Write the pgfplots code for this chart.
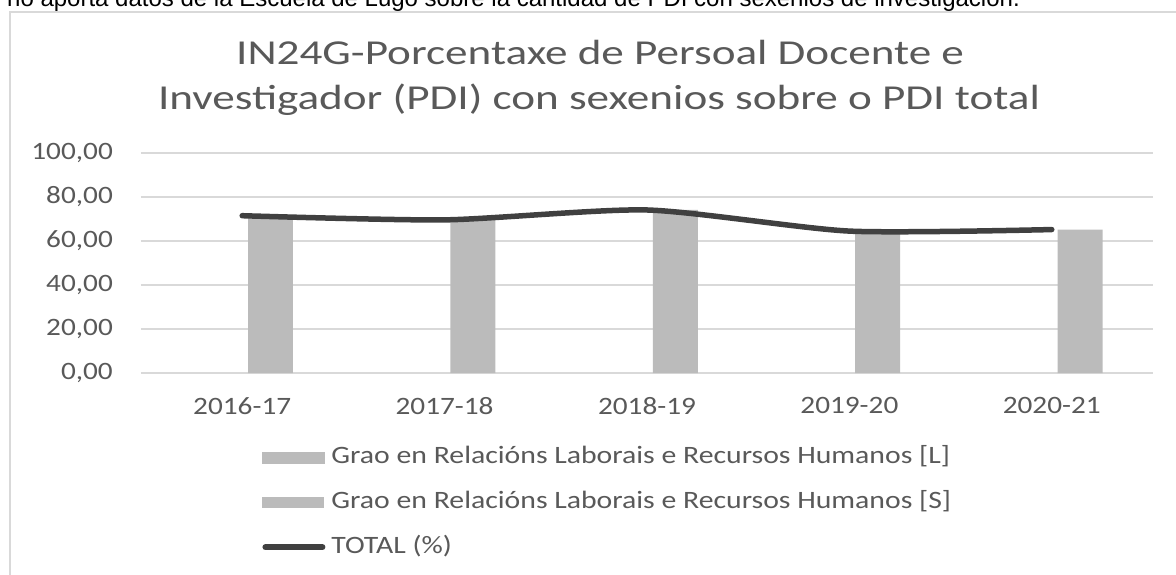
\documentclass[border=0pt]{standalone}
\usepackage{fontspec}
\setmainfont{Carlito}[FakeStretch=1.17]
\newfontfamily\titlefont{Carlito}[FakeStretch=1.29]
\newfontfamily\legendfont{Carlito}[FakeStretch=1.19]
\newfontfamily\arialfont{Liberation Sans}
\usepackage{pgfplots}
\pgfplotsset{compat=1.18}

\definecolor{textgray}{HTML}{595959}
\definecolor{gridgray}{HTML}{D9D9D9}
\definecolor{barS}{HTML}{BBBBBB}
\definecolor{lineC}{HTML}{404040}

\begin{document}
\begin{tikzpicture}
\useasboundingbox (0pt,0pt) rectangle (1176pt,574pt);
\clip (0pt,0pt) rectangle (1176pt,574pt);

% note text above the chart (cut off at the top in the source)
\node[anchor=base west, inner sep=0pt, font=\arialfont\fontsize{24}{28}\selectfont]
  at (7pt,567pt) {no aporta datos de la Escuela de Lugo sobre la cantidad de PDI con sexenios de investigación.};

% chart frame
\draw[gridgray, line width=2pt] (10pt,-20pt) -- (10pt,562pt) -- (1200pt,562pt);

% title
\node[anchor=base, inner sep=0pt, text=textgray, font=\titlefont\fontsize{35}{45}\selectfont]
  at (600pt,509pt) {IN24G-Porcentaxe de Persoal Docente e};
\node[anchor=base, inner sep=0pt, text=textgray, font=\titlefont\fontsize{35}{45}\selectfont]
  at (599pt,464pt) {Investigador (PDI) con sexenios sobre o PDI total};

\begin{axis}[
  at={(141pt,201pt)}, anchor=south west,
  scale only axis, width=1012pt, height=220pt,
  xmin=-0.5, xmax=4.5, ymin=0, ymax=100,
  xtick={0,1,2,3,4},
  xticklabels={2016-17,2017-18,2018-19,2019-20,2020-21},
  ytick={0,20,40,60,80,100},
  ymajorgrids, grid style={gridgray, line width=1.5pt},
  axis line style={draw=none},
  major tick length=0pt,
  tick label style={font=\fontsize{25}{30}\selectfont, text=textgray, inner sep=0pt},
  yticklabel style={anchor=east, xshift=-28pt,
    /pgf/number format/.cd, fixed, fixed zerofill, precision=2, use comma, assume math mode=true},
  xticklabel style={anchor=north, yshift=-24pt},
  legend cell align=left,
  legend style={at={(axis description cs:0.1196,-0.3318)}, anchor=north west,
    draw=none, fill=none, inner sep=0pt, row sep=23pt,
    font=\legendfont\fontsize{25}{28}\selectfont, text=textgray,
    nodes={inner xsep=6pt, inner ysep=0pt, text height=17pt, text depth=5pt}},
]
% [L] series has no data in the source
\addlegendimage{legend image code/.code={\fill[barS] (0pt,-5.5pt) rectangle (62pt,5.5pt);}}
\addlegendentry{Grao en Relacións Laborais e Recursos Humanos [L]}

\addplot[ybar, bar width=0.222, bar shift=0.14, fill=barS, draw=none,
  legend image code/.code={\fill[barS] (0pt,-5.5pt) rectangle (62pt,5.5pt);}]
  coordinates {(0,71.5) (1,69.6) (2,74.1) (3,64.5) (4,65.2)};
\addlegendentry{Grao en Relacións Laborais e Recursos Humanos [S]}

\addplot[smooth, tension=0.4, line width=5.5pt, lineC, line cap=round, line join=round,
  legend image code/.code={\draw[lineC, line width=6pt, line cap=round] (3pt,0pt) -- (60pt,0pt);}]
  coordinates {(0,71.5) (1,69.6) (2,74.1) (3,64.5) (4,65.2)};
\addlegendentry{TOTAL (\%)}
\end{axis}
\end{tikzpicture}
\end{document}
